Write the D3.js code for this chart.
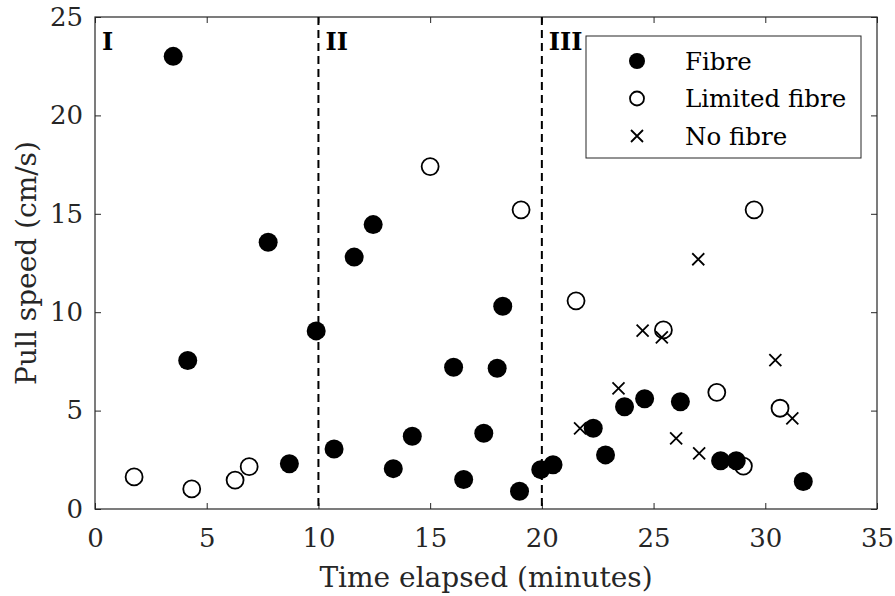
<!DOCTYPE html>
<html><head><meta charset="utf-8">
<script src="https://cdn.jsdelivr.net/npm/d3@7"></script>
<style>body{margin:0;background:#fff}svg{display:block}</style>
</head><body>
<svg id="c" width="895" height="596"></svg>
<script>
const fibreX = [3.5,4.15,7.75,8.7,9.9,10.7,11.6,12.45,13.35,14.2,16.05,16.5,17.4,18.0,18.25,19.0,19.95,20.5,22.3,22.85,23.7,24.6,26.2,28.0,28.7,31.7];
const fibreY = [23.0,7.55,13.55,2.3,9.05,3.05,12.8,14.45,2.05,3.7,7.2,1.5,3.85,7.15,10.3,0.9,2.0,2.25,4.1,2.75,5.2,5.6,5.45,2.45,2.45,1.4];
const limitedX = [1.75,4.33,6.27,6.9,15.0,19.07,21.53,25.44,27.83,29.02,29.5,30.66];
const limitedY = [1.63,1.02,1.47,2.15,17.4,15.2,10.58,9.1,5.93,2.18,15.2,5.12];
const noX = [21.71,23.43,24.51,25.37,26.01,27.0,27.04,30.45,31.21];
const noY = [4.1,6.13,9.06,8.72,3.59,12.69,2.83,7.57,4.61];
const xTicks = [0,5,10,15,20,25,30,35];
const yTicks = [0,5,10,15,20,25];
const phaseLines = [10,20];
const phaseLabels = [{x:0,t:"I"},{x:10,t:"II"},{x:20,t:"III"}];
const legendItems = [{k:"fibre",t:"Fibre"},{k:"limited",t:"Limited fibre"},{k:"no",t:"No fibre"}];

const font = "DejaVu Serif";
const svg = d3.select("#c");
const L=95,R=877,T=17,B=509;
const x = d3.scaleLinear().domain([0,35]).range([L,R]);
const y = d3.scaleLinear().domain([0,25]).range([B,T]);
const axCol = "#262626";

const g = svg.append("g");
const xa = g.append("g").attr("transform",`translate(0,${B})`)
  .call(d3.axisBottom(x).tickValues(xTicks).tickSize(-6).tickPadding(20).tickFormat(d3.format("d")));
const xt = g.append("g").attr("transform",`translate(0,${T})`)
  .call(d3.axisTop(x).tickValues(xTicks).tickSize(-6).tickFormat(""));
const ya = g.append("g").attr("transform",`translate(${L},0)`)
  .call(d3.axisLeft(y).tickValues(yTicks).tickSize(-6).tickPadding(12).tickFormat(d3.format("d")));
const yr = g.append("g").attr("transform",`translate(${R},0)`)
  .call(d3.axisRight(y).tickValues(yTicks).tickSize(-6).tickFormat(""));
[xa,xt,ya,yr].forEach(a=>{
  a.select(".domain").remove();
  a.selectAll("line").attr("stroke",axCol).attr("stroke-width",1);
  a.selectAll("text").attr("font-family",font).attr("font-size",26).attr("fill",axCol);
});
g.append("rect").attr("x",L).attr("y",T).attr("width",R-L).attr("height",B-T)
  .attr("fill","none").attr("stroke",axCol).attr("stroke-width",1.2);

svg.selectAll(".ph").data(phaseLines).enter().append("line")
  .attr("x1",d=>x(d)).attr("x2",d=>x(d)).attr("y1",T).attr("y2",B)
  .attr("stroke","#000").attr("stroke-width",2).attr("stroke-dasharray","8,5");

svg.selectAll(".pl").data(phaseLabels).enter().append("text")
  .attr("x",d=>x(d.x)+7).attr("y",T+33).text(d=>d.t)
  .attr("font-family",font).attr("font-weight","bold").attr("font-size",24).attr("fill","#000");

function dot(sel,cx,cy){sel.append("circle").attr("cx",cx).attr("cy",cy).attr("r",9.5).attr("fill","#000");}
function ring(sel,cx,cy){sel.append("circle").attr("cx",cx).attr("cy",cy).attr("r",8.5).attr("fill","none").attr("stroke","#000").attr("stroke-width",1.8);}
function cross(sel,cx,cy){const s=6;sel.append("path").attr("d",`M${cx-s},${cy-s}L${cx+s},${cy+s}M${cx-s},${cy+s}L${cx+s},${cy-s}`).attr("stroke","#000").attr("stroke-width",1.8).attr("fill","none");}

const pts = svg.append("g");
limitedX.forEach((v,i)=>ring(pts,x(v),y(limitedY[i])));
fibreX.forEach((v,i)=>dot(pts,x(v),y(fibreY[i])));
noX.forEach((v,i)=>cross(pts,x(v),y(noY[i])));

const lg = svg.append("g");
lg.append("rect").attr("x",586).attr("y",36).attr("width",275).attr("height",122)
  .attr("fill","#fff").attr("stroke",axCol).attr("stroke-width",1);
const fns = {fibre:(s,a,b)=>{s.append("circle").attr("cx",a).attr("cy",b).attr("r",8).attr("fill","#000");},
  limited:(s,a,b)=>{s.append("circle").attr("cx",a).attr("cy",b).attr("r",7).attr("fill","none").attr("stroke","#000").attr("stroke-width",1.8);},
  no:(s,a,b)=>cross(s,a,b)};
legendItems.forEach((d,i)=>{
  const cy = 61 + i*37.5;
  fns[d.k](lg,637,cy);
  lg.append("text").attr("x",685).attr("y",cy).attr("dy","0.36em").text(d.t)
    .attr("font-family",font).attr("font-size",24.5).attr("fill","#000");
});

svg.append("text").attr("x",(L+R)/2).attr("y",587).attr("text-anchor","middle")
  .text("Time elapsed (minutes)").attr("font-family",font).attr("font-size",28).attr("fill",axCol);
svg.append("text").attr("transform",`translate(36,${(T+B)/2}) rotate(-90)`).attr("text-anchor","middle")
  .text("Pull speed (cm/s)").attr("font-family",font).attr("font-size",28).attr("fill",axCol);
</script>
</body></html>
